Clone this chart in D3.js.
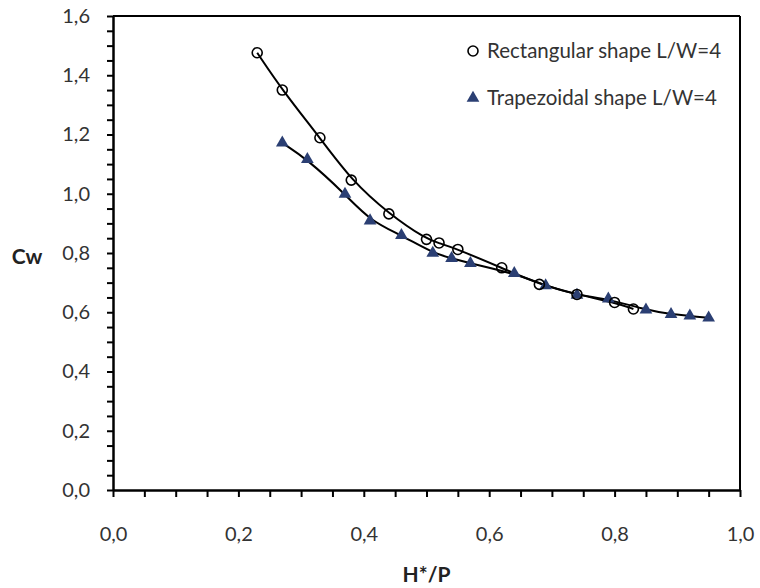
<!DOCTYPE html>
<html>
<head>
<meta charset="utf-8">
<script src="https://cdn.jsdelivr.net/npm/d3@7"></script>
<style>
  body { margin: 0; background: #fff; }
  text { font-family: Lato, "Open Sans", sans-serif; fill: #333; }
  .axis .domain { stroke: #000; stroke-width: 2.5; }
  .axis .tick line { stroke: #000; stroke-width: 2; }
  .axis text { font-size: 20px; }
</style>
</head>
<body>
<div id="chart"></div>
<script>
// Rectangular shape L/W=4 (open circles)
const rectX = [0.23, 0.27, 0.33, 0.38, 0.44, 0.50, 0.52, 0.55, 0.62, 0.68, 0.74, 0.80, 0.83];
const rectY = [1.476, 1.350, 1.189, 1.046, 0.932, 0.846, 0.834, 0.812, 0.750, 0.694, 0.660, 0.633, 0.611];

// Trapezoidal shape L/W=4 (filled triangles)
const trapX = [0.27, 0.31, 0.37, 0.41, 0.46, 0.51, 0.54, 0.57, 0.64, 0.69, 0.74, 0.79, 0.85, 0.89, 0.92, 0.95];
const trapY = [1.172, 1.116, 0.999, 0.909, 0.860, 0.800, 0.782, 0.765, 0.731, 0.690, 0.658, 0.645, 0.608, 0.593, 0.588, 0.581];

const seriesNames = ["Rectangular shape L/W=4", "Trapezoidal shape L/W=4"];

// tick values (every 0.05, labels every 0.2)
const xTicks = d3.range(0, 1.0001, 0.05);
const yTicks = d3.range(0, 1.6001, 0.05);
const labelStep = 0.2;

const margin = { top: 16, right: 20, bottom: 98, left: 113 };
const width = 760 - margin.left - margin.right;
const height = 588 - margin.top - margin.bottom;

const svg = d3.select("#chart")
  .append("svg")
  .attr("width", 760)
  .attr("height", 588)
  .append("g")
  .attr("transform", "translate(" + margin.left + "," + margin.top + ")");

const x = d3.scaleLinear().domain([0, 1]).range([0, width]);
const y = d3.scaleLinear().domain([0, 1.6]).range([height, 0]);

const fmt = v => {
  const r = Math.round(v * 100) / 100;
  return Math.abs(r / labelStep - Math.round(r / labelStep)) < 1e-6 ? r.toFixed(1).replace(".", ",") : "";
};

// top and right border
svg.append("line").attr("x1", 0).attr("x2", width).attr("y1", 0).attr("y2", 0)
  .attr("stroke", "#000").attr("stroke-width", 2);
svg.append("line").attr("x1", width).attr("x2", width).attr("y1", 0).attr("y2", height)
  .attr("stroke", "#000").attr("stroke-width", 2);

// Axes
svg.append("g")
  .attr("class", "axis")
  .attr("transform", "translate(0," + height + ")")
  .call(d3.axisBottom(x).tickValues(xTicks).tickFormat(fmt).tickSize(7).tickSizeOuter(0).tickPadding(30));

svg.append("g")
  .attr("class", "axis")
  .call(d3.axisLeft(y).tickValues(yTicks).tickFormat(fmt).tickSize(6).tickSizeOuter(0).tickPadding(17));

// Axis titles
svg.append("text")
  .attr("x", width / 2)
  .attr("y", 582 - margin.top)
  .attr("text-anchor", "middle")
  .style("font-size", "21px")
  .style("font-weight", "bold")
  .style("fill", "#222")
  .text("H*/P");

svg.append("text")
  .attr("x", 27 - margin.left)
  .attr("y", y(0.8) + 11)
  .attr("text-anchor", "middle")
  .style("font-size", "21px")
  .style("font-weight", "bold")
  .style("fill", "#222")
  .text("Cw");

// Data and curves
const rectData = rectX.map((v, i) => ({ x: v, y: rectY[i] }));
const trapData = trapX.map((v, i) => ({ x: v, y: trapY[i] }));

const line = d3.line()
  .x(d => x(d.x))
  .y(d => y(d.y))
  .curve(d3.curveBasis);

[rectData, trapData].forEach(data => {
  svg.append("path")
    .datum(data)
    .attr("d", line)
    .attr("fill", "none")
    .attr("stroke", "#000")
    .attr("stroke-width", 2);
});

const triangle = d3.symbol().type(d3.symbolTriangle).size(70);

svg.selectAll(".tri")
  .data(trapData)
  .enter().append("path")
  .attr("class", "tri")
  .attr("transform", d => "translate(" + x(d.x) + "," + y(d.y) + ")")
  .attr("d", triangle)
  .attr("fill", "#2b3f73");

svg.selectAll(".circ")
  .data(rectData)
  .enter().append("circle")
  .attr("class", "circ")
  .attr("cx", d => x(d.x))
  .attr("cy", d => y(d.y))
  .attr("r", 5)
  .attr("fill", "none")
  .attr("stroke", "#000")
  .attr("stroke-width", 1.6);

// Legend
const legend = svg.append("g")
  .attr("transform", "translate(" + (473 - margin.left) + "," + (51 - margin.top) + ")");

legend.append("circle")
  .attr("cx", 0).attr("cy", 0).attr("r", 5)
  .attr("fill", "none").attr("stroke", "#000").attr("stroke-width", 1.6);

legend.append("path")
  .attr("transform", "translate(0,47)")
  .attr("d", triangle)
  .attr("fill", "#2b3f73");

legend.selectAll("text")
  .data(seriesNames)
  .enter().append("text")
  .attr("x", 14)
  .attr("y", (d, i) => i * 47)
  .attr("dy", ".35em")
  .style("font-size", "20.5px")
  .text(d => d);
</script>
</body>
</html>
